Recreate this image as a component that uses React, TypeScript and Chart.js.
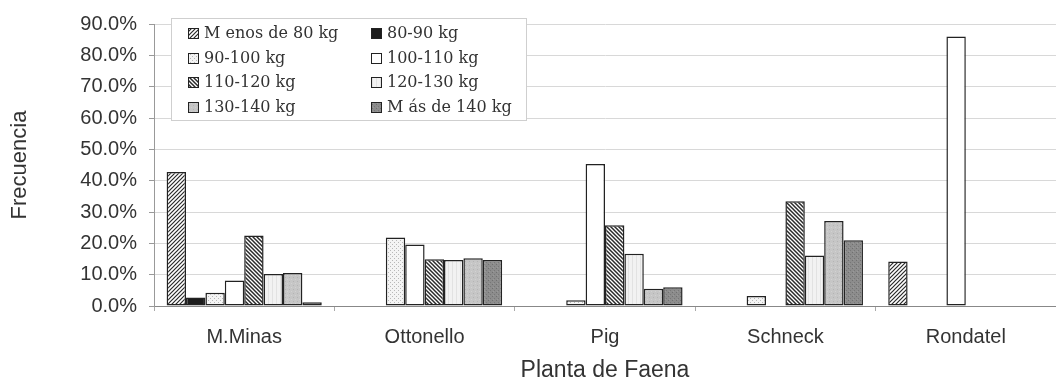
import React, { useEffect, useRef } from 'react';
import { Chart, registerables } from 'chart.js';
Chart.register(...registerables);

const categories = ['M.Minas', 'Ottonello', 'Pig', 'Schneck', 'Rondatel'];
const seriesLabels = [
  'M enos de 80 kg',
  '80-90 kg',
  '90-100 kg',
  '100-110 kg',
  '110-120 kg',
  '120-130 kg',
  '130-140 kg',
  'M ás de 140 kg',
];
const menos80 = [42.8, null, null, null, 14.2];
const kg80a90 = [2.7, null, null, null, null];
const kg90a100 = [4.2, 21.9, 1.8, 3.2, null];
const kg100a110 = [8.1, 19.6, 45.3, null, 86.0];
const kg110a120 = [22.5, 14.9, 25.8, 33.4, null];
const kg120a130 = [10.2, 14.7, 16.7, 16.1, null];
const kg130a140 = [10.5, 15.2, 5.5, 27.1, null];
const mas140 = [1.2, 14.7, 6.0, 21.0, null];
const seriesValues = [menos80, kg80a90, kg90a100, kg100a110, kg110a120, kg120a130, kg130a140, mas140];
const yTickMax = 90;
const yTickStep = 10;

type Kind = 'fwd' | 'solid' | 'dots' | 'white' | 'back' | 'vlight' | 'lgray' | 'dgray';
const kinds: Kind[] = ['fwd', 'solid', 'dots', 'white', 'back', 'vlight', 'lgray', 'dgray'];

function makePattern(kind: Kind): CanvasPattern | string {
  const c = document.createElement('canvas');
  const s = 4;
  c.width = s;
  c.height = s;
  const g = c.getContext('2d');
  if (!g) return '#fff';
  const fill = (col: string) => {
    g.fillStyle = col;
    g.fillRect(0, 0, s, s);
  };
  const px = (x: number, y: number, col: string) => {
    g.fillStyle = col;
    g.fillRect(x, y, 1, 1);
  };
  if (kind === 'solid') return '#1c1c1c';
  if (kind === 'white') return '#ffffff';
  if (kind === 'fwd' || kind === 'back') {
    fill('#ffffff');
    g.strokeStyle = '#2a2a2a';
    g.lineWidth = kind === 'back' ? 1.5 : 1.2;
    g.beginPath();
    if (kind === 'fwd') {
      g.moveTo(0, s); g.lineTo(s, 0);
      g.moveTo(-1, 1); g.lineTo(1, -1);
      g.moveTo(s - 1, s + 1); g.lineTo(s + 1, s - 1);
    } else {
      g.moveTo(0, 0); g.lineTo(s, s);
      g.moveTo(-1, s - 1); g.lineTo(1, s + 1);
      g.moveTo(s - 1, -1); g.lineTo(s + 1, 1);
    }
    g.stroke();
  } else if (kind === 'dots') {
    fill('#f4f4f4');
    px(0, 0, '#b8b8b8'); px(2, 2, '#b8b8b8');
  } else if (kind === 'vlight') {
    fill('#f2f2f2');
    px(0, 0, '#e2e2e2'); px(0, 1, '#e2e2e2'); px(0, 2, '#e2e2e2'); px(0, 3, '#e2e2e2');
  } else if (kind === 'lgray') {
    fill('#c6c6c6');
    px(1, 1, '#b4b4b4'); px(3, 3, '#d2d2d2');
  } else if (kind === 'dgray') {
    fill('#8c8c8c');
    px(0, 0, '#707070'); px(2, 2, '#777777'); px(1, 3, '#9a9a9a');
  }
  const p = g.createPattern(c, 'repeat');
  return p || '#fff';
}

const legendPlugin = {
  id: 'boxLegend',
  afterDraw(chart: any) {
    const ctx = chart.ctx as CanvasRenderingContext2D;
    const x0 = 171, y0 = 18, x1 = 526, y1 = 120;
    ctx.save();
    ctx.fillStyle = '#ffffff';
    ctx.fillRect(x0, y0, x1 - x0, y1 - y0);
    ctx.strokeStyle = '#cfcfcf';
    ctx.lineWidth = 1;
    ctx.strokeRect(x0 + 0.5, y0 + 0.5, x1 - x0, y1 - y0);
    const colX = [188, 371];
    const rowY = [33, 58, 82, 107];
    ctx.font = '16px "DejaVu Serif"';
    ctx.textBaseline = 'middle';
    ctx.textAlign = 'left';
    chart.data.datasets.forEach((ds: any, i: number) => {
      const col = i % 2;
      const row = Math.floor(i / 2);
      const sx = colX[col];
      const sy = rowY[row] - 5;
      ctx.fillStyle = ds.backgroundColor;
      ctx.fillRect(sx, sy, 10, 10);
      ctx.strokeStyle = '#222';
      ctx.lineWidth = 1;
      ctx.strokeRect(sx + 0.5, sy + 0.5, 10, 10);
      ctx.fillStyle = '#333';
      ctx.fillText(ds.label, sx + 16, rowY[row] + 1);
    });
    ctx.restore();
  },
};

export default function App() {
  const ref = useRef<HTMLCanvasElement | null>(null);
  useEffect(() => {
    if (!ref.current) return;
    const datasets = seriesValues.map((vals, i) => ({
      label: seriesLabels[i],
      data: vals,
      backgroundColor: makePattern(kinds[i]) as any,
      borderColor: '#222222',
      borderWidth: 1.5,
      borderSkipped: false as any,
      categoryPercentage: 0.86,
      barPercentage: 1.0,
    }));
    const chart = new Chart(ref.current, {
      type: 'bar',
      data: { labels: categories, datasets },
      plugins: [legendPlugin],
      options: {
        animation: false,
        responsive: false,
        devicePixelRatio: 1,
        layout: { padding: { left: 7, top: 17, right: 0, bottom: 0 } },
        plugins: { legend: { display: false }, tooltip: { enabled: false } },
        scales: {
          x: {
            offset: true,
            grid: { display: true, drawOnChartArea: false, drawTicks: true, tickLength: 5, color: '#aaaaaa', offset: true },
            border: { display: true, color: '#888888', width: 1 },
            ticks: { font: { family: '"Liberation Sans", Arial', size: 20 }, color: '#333333', padding: 14, maxRotation: 0 },
            title: { display: true, text: 'Planta de Faena', font: { family: '"Liberation Sans", Arial', size: 23 }, color: '#333333', padding: 0 },
            afterFit: (scale: any) => { scale.height = 78; },
          },
          y: {
            min: 0,
            max: yTickMax,
            ticks: {
              stepSize: yTickStep,
              callback: (v: any) => Number(v).toFixed(1) + '%',
              font: { family: '"Liberation Sans", Arial', size: 20 },
              color: '#333333',
              padding: 12,
            },
            grid: { color: '#d8d8d8', lineWidth: 1, tickColor: '#999999', tickLength: 5 },
            border: { display: true, color: '#999999', width: 1 },
            title: { display: true, text: 'Frecuencia', font: { family: '"Liberation Sans", Arial', size: 22 }, color: '#333333', padding: 0 },
            afterFit: (scale: any) => { scale.width = 147; },
          },
        },
      },
    });
    return () => chart.destroy();
  }, []);
  return (
    <div style={{ position: 'absolute', left: 0, top: 0, width: 1056, height: 384, background: '#fff' }}>
      <canvas ref={ref} width={1056} height={384} style={{ display: 'block' }} />
    </div>
  );
}
